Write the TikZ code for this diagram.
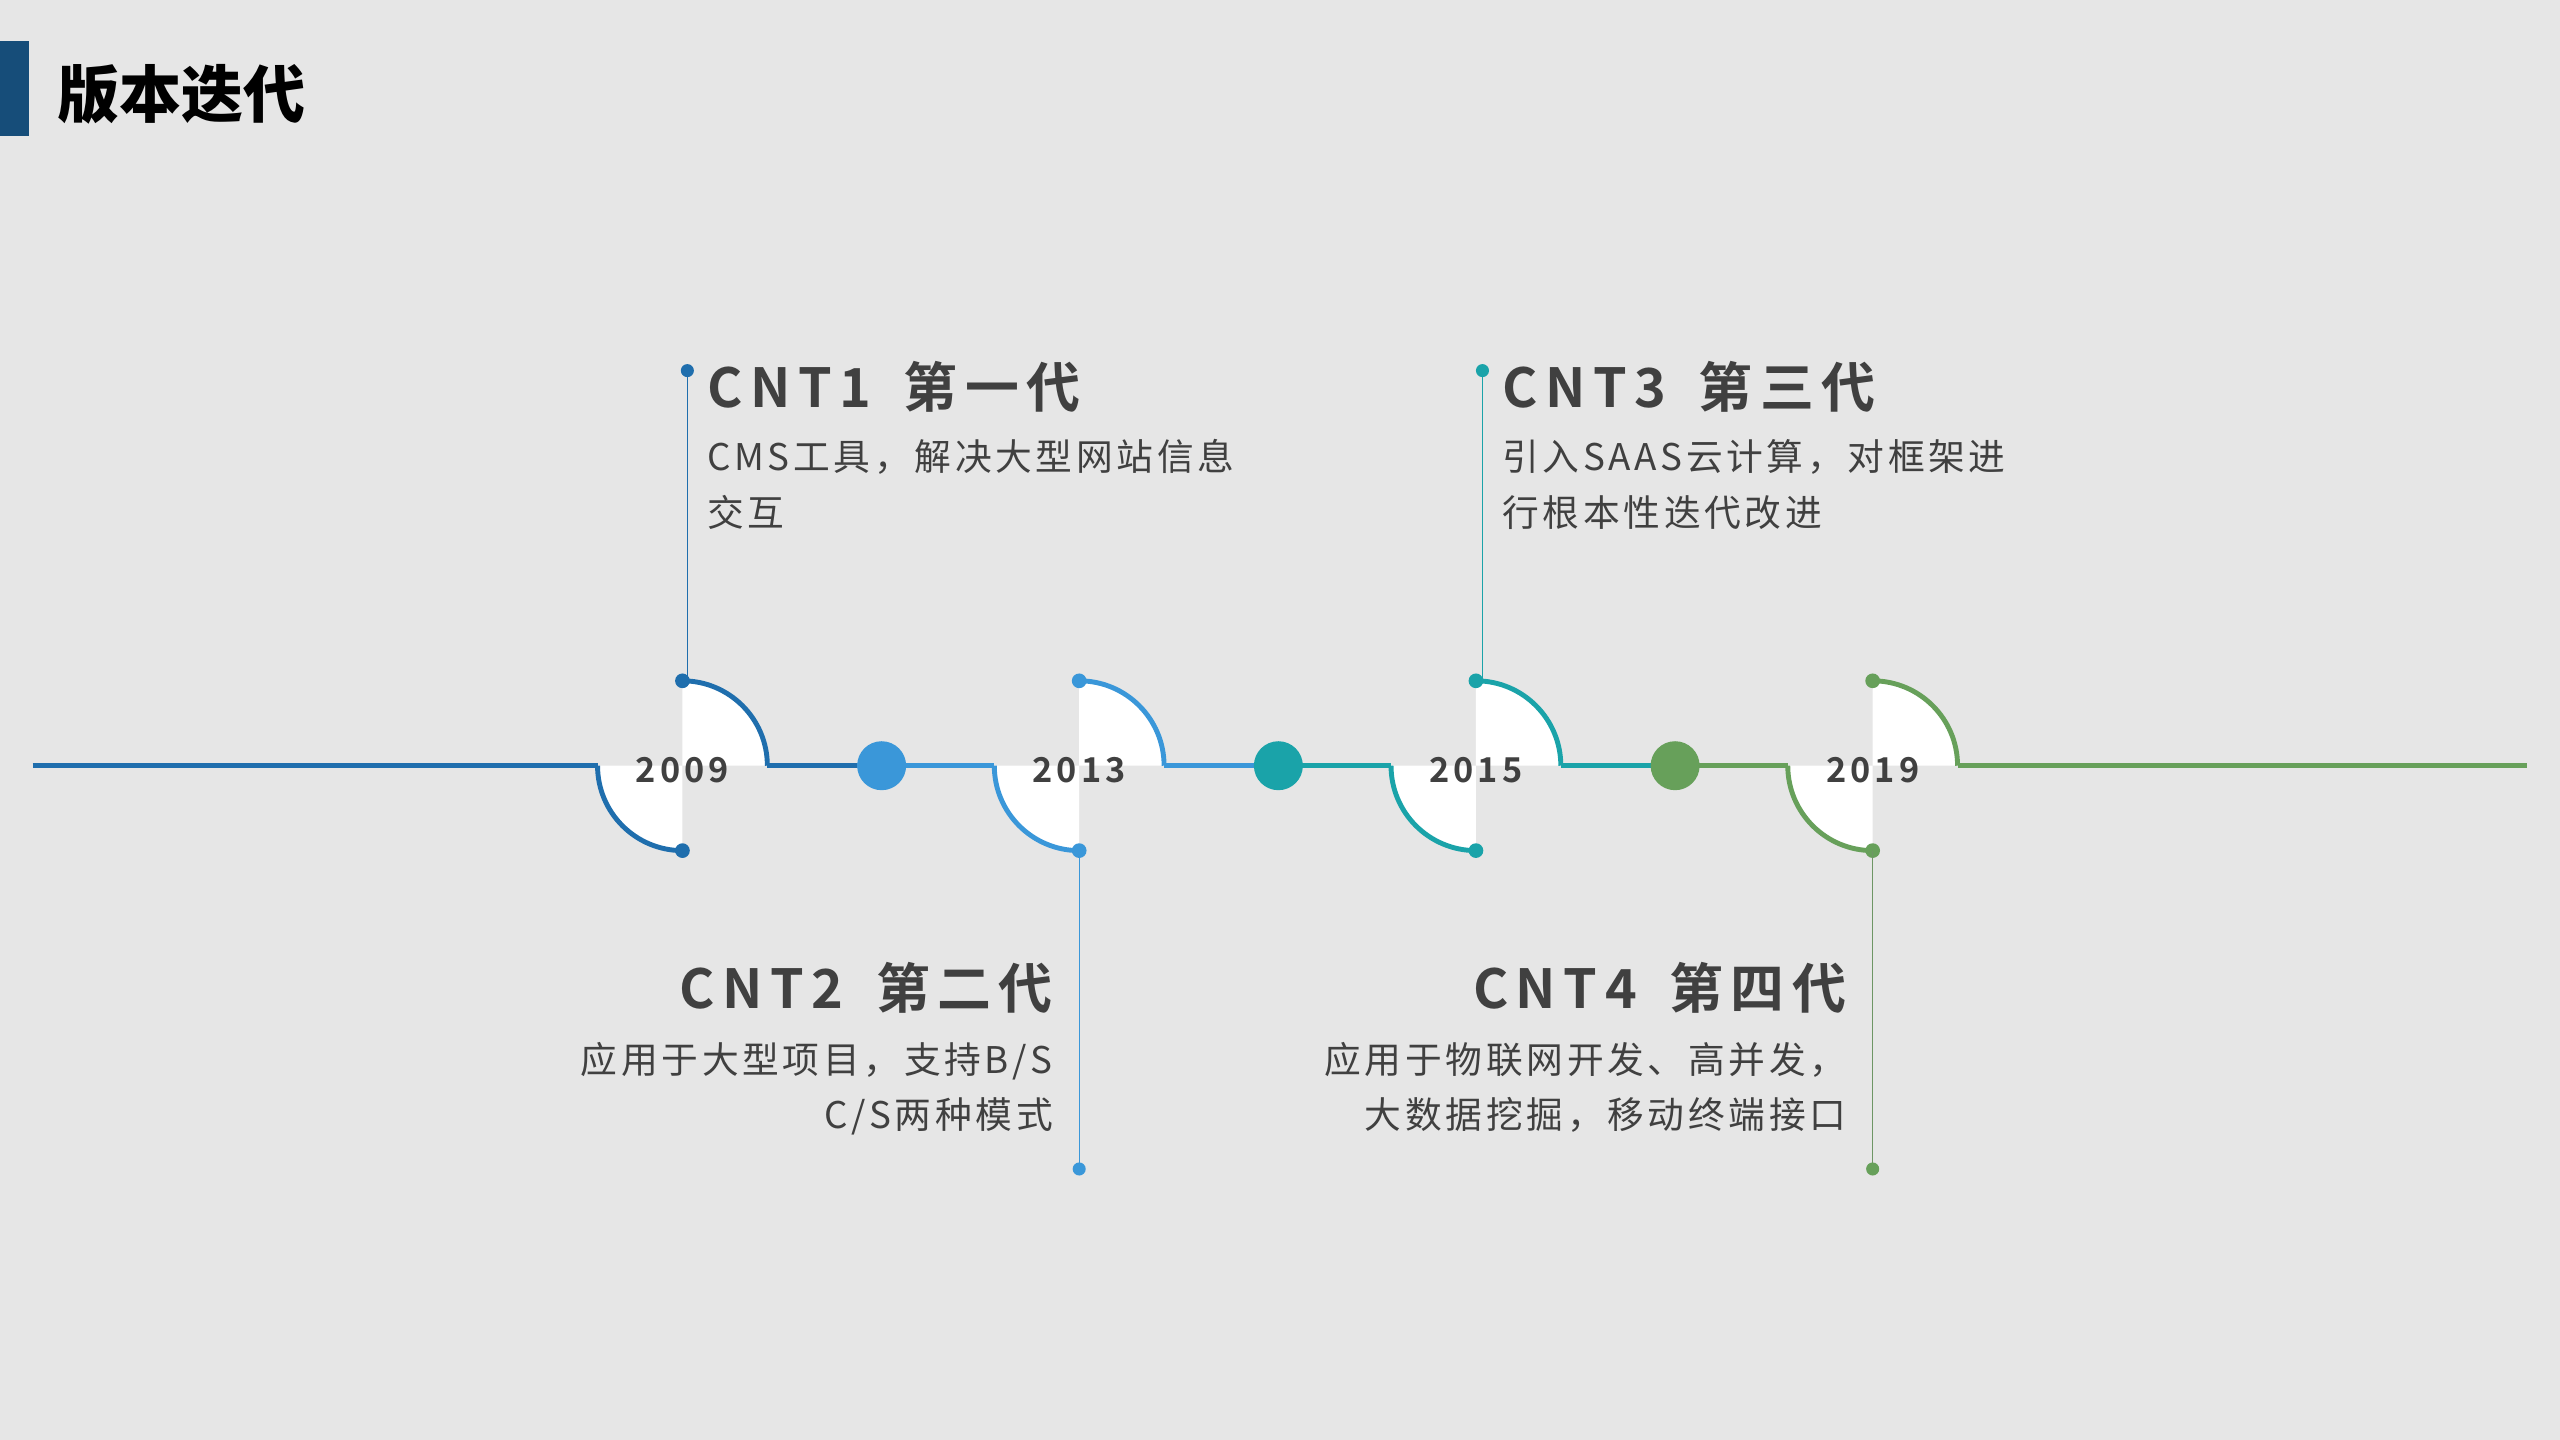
\documentclass[tikz,border=0pt]{standalone}
\usepackage{fontspec}
\setmainfont{Noto Sans CJK SC}
\newfontfamily\hd[LetterSpace=14]{Noto Sans CJK SC Bold}
\newfontfamily\yr[LetterSpace=12]{Noto Sans CJK SC Bold}
\newfontfamily\ds[LetterSpace=10]{Noto Sans CJK SC}
\definecolor{bg}{HTML}{E6E6E6}
\definecolor{ca}{HTML}{1F6EAD}
\definecolor{cb}{HTML}{3A97D9}
\definecolor{cc}{HTML}{1AA3A9}
\definecolor{cd}{HTML}{67A05A}
\definecolor{tx}{HTML}{404040}
\begin{document}
\begin{tikzpicture}[x=1pt,y=-1pt,
  head/.style={font=\hd\fontsize{33}{36}\selectfont,text=tx,inner sep=0pt},
  desc/.style={font=\ds\fontsize{22.5}{34}\selectfont,text=tx,inner sep=0pt,align=left},
  year/.style={font=\yr\fontsize{21}{24}\selectfont,text=tx,inner sep=0pt},
  tl/.style={line width=3pt},
  vl/.style={line width=0.8pt}]
\fill[bg] (0,0) rectangle (1568,882);
\useasboundingbox (0,0) rectangle (1568,882);
\fill[ca!70!black] (0,25) rectangle (18,83);
\node[anchor=west,inner sep=0pt,font=\bfseries\fontsize{38}{42}\selectfont] (title) at (35,58) {版本迭代};
\coordinate (s0) at (20,469);
\coordinate (e0) at (1548,469);
\foreach \n/\x/\c in {a/418/ca,b/661/cb,c/904/cc,d/1147/cd}{
  \coordinate (\n) at (\x,469);
  \fill[white] (\n) -- ++(-52pt,0pt) arc[start angle=180,end angle=270,radius=52pt] -- cycle;
  \fill[white] (\n) -- ++(0pt,52pt) arc[start angle=90,end angle=0,radius=52pt] -- cycle;
  \draw[tl,\c] (\n) ++(-52pt,0pt) coordinate (\n L) arc[start angle=180,end angle=270,radius=52pt] coordinate (\n B);
  \draw[tl,\c] (\n) ++(0pt,52pt) coordinate (\n T) arc[start angle=90,end angle=0,radius=52pt] coordinate (\n R);
  \fill[\c] (\n T) circle (4.5pt);
  \fill[\c] (\n B) circle (4.5pt);
}
\draw[tl,ca] (s0) -- (aL);
\draw[tl,ca] (aR) -- (525,469);
\draw[tl,cb] (525,469) -- (bL);
\draw[tl,cb] (bR) -- (768,469);
\draw[tl,cc] (768,469) -- (cL);
\draw[tl,cc] (cR) -- (1011,469);
\draw[tl,cd] (1011,469) -- (dL);
\draw[tl,cd] (dR) -- (e0);
\fill[cb] (540,469) circle (15pt) coordinate (m1);
\fill[cc] (783,469) circle (15pt) coordinate (m2);
\fill[cd] (1026,469) circle (15pt) coordinate (m3);
\node[year] (ya) at (418,472) {2009};
\node[year] (yb) at (661,472) {2013};
\node[year] (yc) at (904,472) {2015};
\node[year] (yd) at (1147,472) {2019};
\coordinate (pa) at (421,227); \coordinate (pc) at (908,227);
\coordinate (pb) at (661,716); \coordinate (pd) at (1147,716);
\draw[vl,ca] (pa) -- (421,417); \fill[ca] (pa) circle (4pt);
\draw[vl,cc] (pc) -- (908,417); \fill[cc] (pc) circle (4pt);
\draw[vl,cb] (bB) -- (pb); \fill[cb] (pb) circle (4pt);
\draw[vl,cd!70!gray] (dB) -- (pd); \fill[cd] (pd) circle (4pt);
\node[head,anchor=west] (h1) at (433,237) {CNT1\hskip 20pt 第一代};
\node[desc,anchor=north west] (d1) at (433,269) {CMS工具，解决大型网站信息\\交互};
\node[head,anchor=west] (h3) at (920,237) {CNT3\hskip 20pt 第三代};
\node[desc,anchor=north west] (d3) at (920,269) {引入SAAS云计算，对框架进\\行根本性迭代改进};
\node[head,anchor=east] (h2) at (645,605) {CNT2\hskip 20pt 第二代};
\node[desc,anchor=north east,align=right] (d2) at (645,638) {应用于大型项目，支持B/S\\C/S两种模式};
\node[head,anchor=east] (h4) at (1131,605) {CNT4\hskip 20pt 第四代};
\node[desc,anchor=north east,align=right] (d4) at (1131,638) {应用于物联网开发、高并发，\\大数据挖掘，移动终端接口};
\end{tikzpicture}
\end{document}
